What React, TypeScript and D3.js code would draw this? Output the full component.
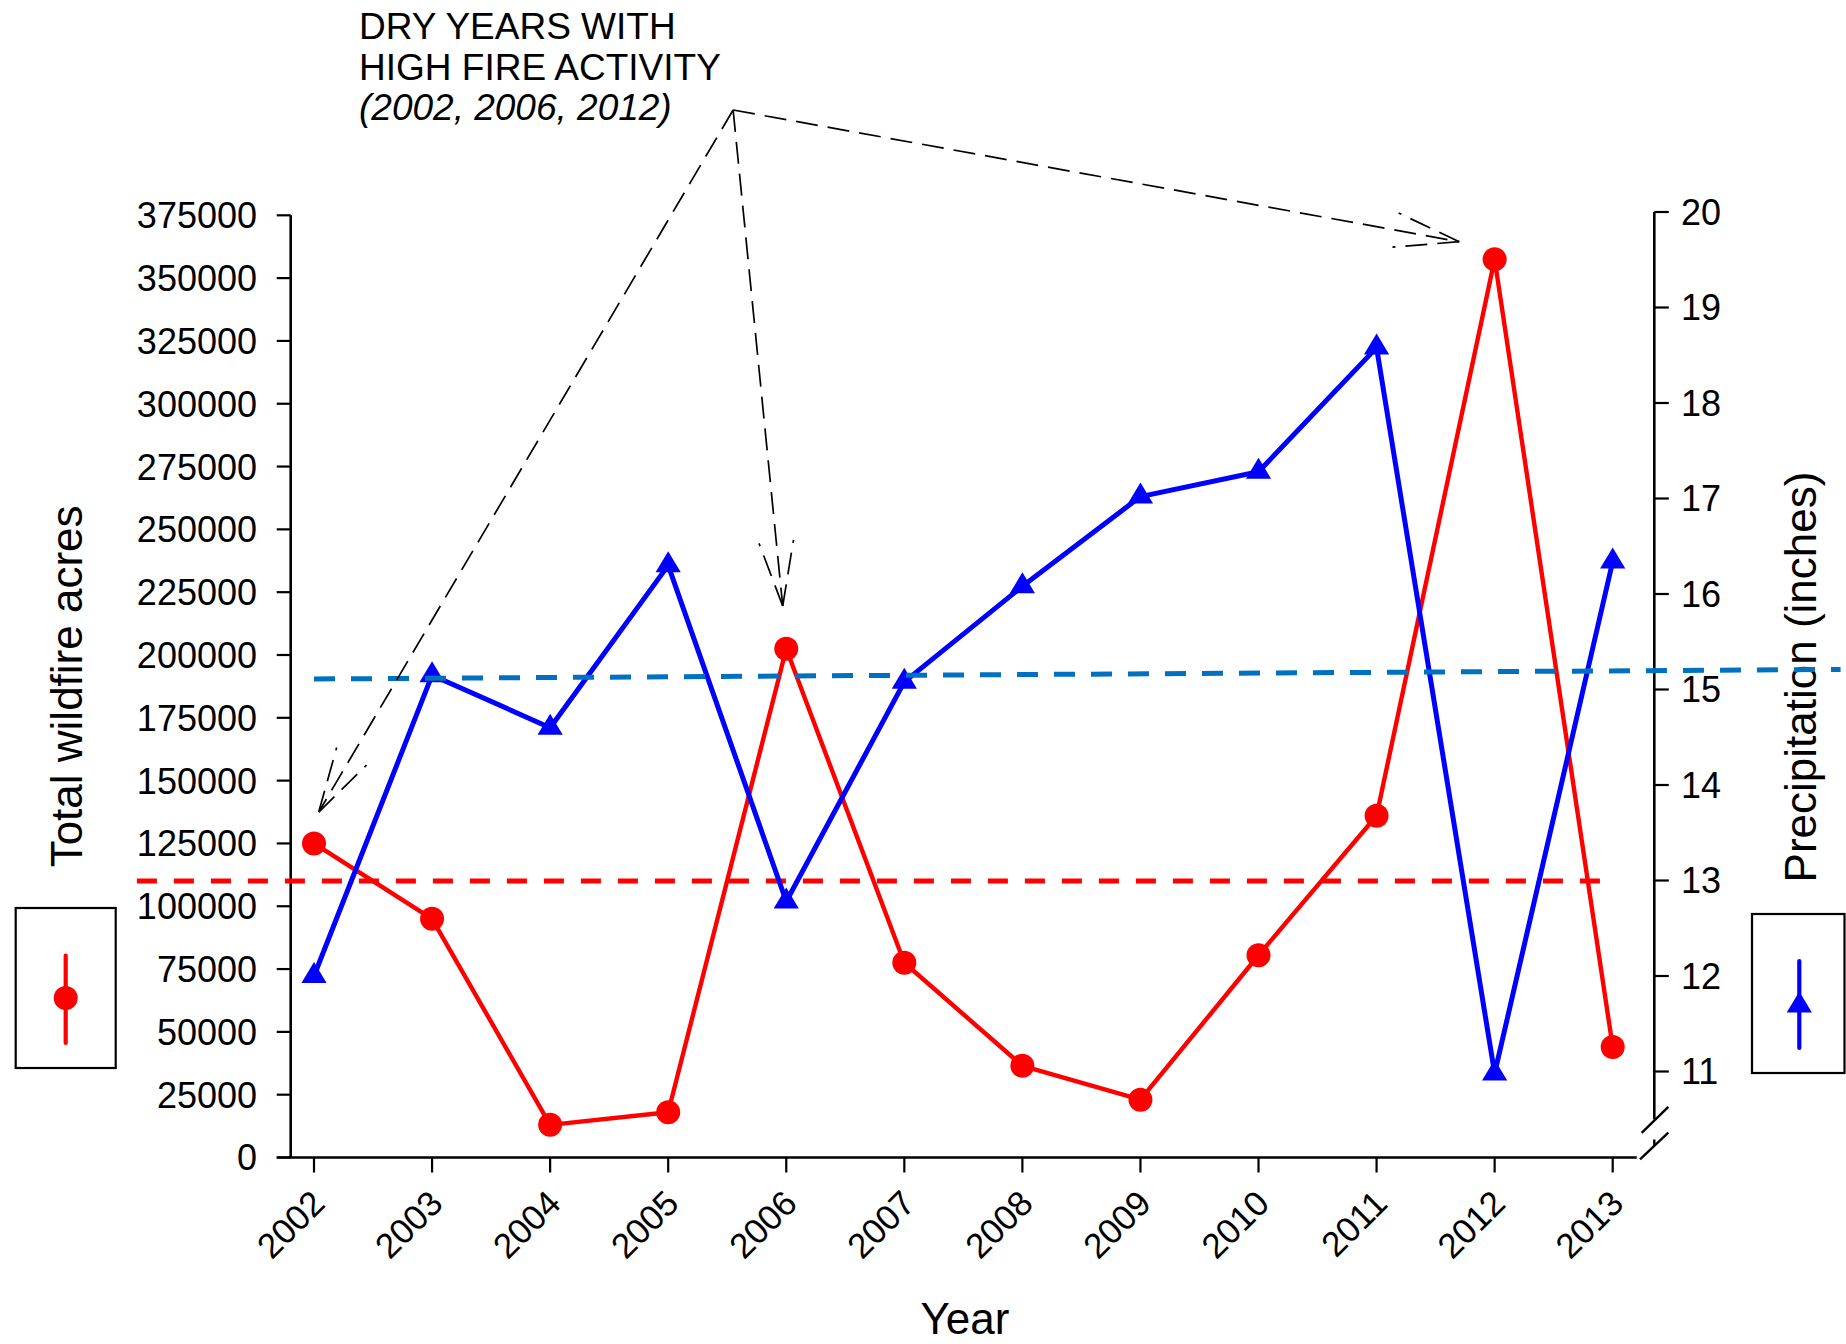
import React from "react";
import * as d3 from "d3";

// Annual series
const years = [2002, 2003, 2004, 2005, 2006, 2007, 2008, 2009, 2010, 2011, 2012, 2013];
const wildfireAcres = [125000, 95000, 13000, 18000, 202500, 77500, 36500, 23000, 80500, 136000, 357500, 44000];
const precipitation = [12.0, 15.15, 14.6, 16.3, 12.78, 15.08, 16.08, 17.02, 17.28, 18.58, 10.98, 16.34];

// Axis ticks
const acreTicks = d3.range(0, 375001, 25000);
const precipTicks = [11, 12, 13, 14, 15, 16, 17, 18, 19, 20];

// Reference lines
const acresMean = 110000;
const acresMeanSpan = [2000.5, 2013];
const precipTrend: [number, number][] = [
  [2002, 15.11],
  [2014.93, 15.21],
];
const precipAxisBreak = 10.5;

// Callout
const calloutLines = ["DRY YEARS WITH", "HIGH FIRE ACTIVITY", "(2002, 2006, 2012)"];
const calloutOrigin: [number, number] = [2005.55, 416900];
const calloutTargets: [number, number][] = [
  [2002.04, 137500],
  [2005.97, 219500],
  [2011.7, 364500],
];

const FONT = "'Liberation Sans', Arial, Helvetica, sans-serif";
const RED = "#ff0000";
const BLUE = "#0000ff";
const TREND = "#0070c0";

export default function App() {
  const W = 1846;
  const H = 1344;

  const x = d3.scaleLinear().domain([2002, 2013]).range([314, 1612.7]);
  const yL = d3.scaleLinear().domain([0, 375000]).range([1157.5, 215.3]);
  const yR = d3.scaleLinear().domain([11, 20]).range([1071.5, 212]);

  const leftX = 290.7;
  const rightX = 1654.3;
  const baseY = yL(0);

  const fireLine = d3
    .line<number>()
    .x((_, i) => x(years[i]))
    .y((d) => yL(d));
  const precipLine = d3
    .line<number>()
    .x((_, i) => x(years[i]))
    .y((d) => yR(d));
  const trendLine = d3
    .line<[number, number]>()
    .x((d) => x(d[0]))
    .y((d) => yR(d[1]));

  const tri = (cx: number, cy: number) =>
    `M${cx},${cy - 14} L${cx + 12.6},${cy + 7} L${cx - 12.6},${cy + 7} Z`;

  // Callout arrows
  const ox = x(calloutOrigin[0]);
  const oy = yL(calloutOrigin[1]);
  const arrows = calloutTargets.map(([ty, tv]) => {
    const tx = x(ty);
    const tyy = yL(tv);
    const ang = Math.atan2(oy - tyy, ox - tx);
    const len = 67;
    const wa = 15 * (Math.PI / 180);
    const w1: [number, number] = [tx + len * Math.cos(ang + wa), tyy + len * Math.sin(ang + wa)];
    const w2: [number, number] = [tx + len * Math.cos(ang - wa), tyy + len * Math.sin(ang - wa)];
    return { tx, ty: tyy, w1, w2 };
  });

  const precipAxisEnd = yR(precipAxisBreak);

  return (
    <svg
      width={W}
      height={H}
      viewBox={`0 0 ${W} ${H}`}
      style={{ position: "absolute", left: 0, top: 0, background: "#fff" }}
    >
      <rect x={0} y={0} width={W} height={H} fill="#fff" />

      {/* Left axis */}
      <line x1={leftX} x2={leftX} y1={yL(375000)} y2={baseY} stroke="#000" strokeWidth={2.6} />
      {acreTicks.map((t) => (
        <g key={`l${t}`}>
          <line x1={leftX - 14} x2={leftX} y1={yL(t)} y2={yL(t)} stroke="#000" strokeWidth={2.2} />
          <text
            x={257}
            y={yL(t)}
            dy="0.36em"
            textAnchor="end"
            fontFamily={FONT}
            fontSize={36}
            fill="#000"
          >
            {t}
          </text>
        </g>
      ))}
      <text
        transform={`translate(82, ${(yL(0) + yL(375000)) / 2}) rotate(-90)`}
        textAnchor="middle"
        fontFamily={FONT}
        fontSize={44}
        fill="#000"
      >
        Total wildfire acres
      </text>

      {/* Bottom axis */}
      <line x1={276.7} x2={1636.7} y1={baseY} y2={baseY} stroke="#000" strokeWidth={2.6} />
      {years.map((yr) => (
        <g key={`x${yr}`}>
          <line x1={x(yr)} x2={x(yr)} y1={baseY} y2={baseY + 15} stroke="#000" strokeWidth={2.2} />
          <text
            transform={`translate(${x(yr) + 12.7}, ${baseY + 48}) rotate(-45)`}
            textAnchor="end"
            fontFamily={FONT}
            fontSize={35}
            fill="#000"
          >
            {yr}
          </text>
        </g>
      ))}
      <text x={965} y={1334} textAnchor="middle" fontFamily={FONT} fontSize={44} fill="#000">
        Year
      </text>

      {/* Right axis with break */}
      <line x1={rightX} x2={rightX} y1={yR(20)} y2={precipAxisEnd} stroke="#000" strokeWidth={2.6} />
      {precipTicks.map((t) => (
        <g key={`r${t}`}>
          <line x1={rightX} x2={rightX + 14.5} y1={yR(t)} y2={yR(t)} stroke="#000" strokeWidth={2.2} />
          <text
            x={1681}
            y={yR(t)}
            dy="0.36em"
            textAnchor="start"
            fontFamily={FONT}
            fontSize={36}
            fill="#000"
          >
            {t}
          </text>
        </g>
      ))}
      <line x1={1641.7} y1={precipAxisEnd + 13.7} x2={1668.3} y2={precipAxisEnd - 12.3} stroke="#000" strokeWidth={2.4} />
      <line x1={1640} y1={baseY + 1.8} x2={1668.3} y2={baseY - 24.8} stroke="#000" strokeWidth={2.4} />
      <line x1={rightX} x2={rightX} y1={baseY - 12} y2={baseY - 18} stroke="#000" strokeWidth={2.4} />
      <text
        transform={`translate(1816, 677) rotate(-90)`}
        textAnchor="middle"
        fontFamily={FONT}
        fontSize={44}
        fill="#000"
      >
        Precipitation (inches)
      </text>

      {/* Mean wildfire acres */}
      <line
        x1={x(acresMeanSpan[0])}
        x2={x(acresMeanSpan[1])}
        y1={yL(acresMean)}
        y2={yL(acresMean)}
        stroke={RED}
        strokeWidth={5}
        strokeDasharray="20 17"
      />

      {/* Wildfire acres series */}
      <path d={fireLine(wildfireAcres) ?? ""} fill="none" stroke={RED} strokeWidth={4.4} strokeLinejoin="round" />
      {wildfireAcres.map((v, i) => (
        <circle key={`c${i}`} cx={x(years[i])} cy={yL(v)} r={12} fill={RED} />
      ))}

      {/* Precipitation series */}
      <path d={precipLine(precipitation) ?? ""} fill="none" stroke={BLUE} strokeWidth={5} strokeLinejoin="round" />
      {precipitation.map((v, i) => (
        <path key={`t${i}`} d={tri(x(years[i]), yR(v))} fill={BLUE} />
      ))}

      {/* Precipitation trend */}
      <path
        d={trendLine(precipTrend) ?? ""}
        fill="none"
        stroke={TREND}
        strokeWidth={5}
        strokeDasharray="21 16"
      />

      {/* Callout */}
      <g fontFamily={FONT} fontSize={37} fill="#000">
        <text x={359} y={38.9}>{calloutLines[0]}</text>
        <text x={359} y={79.5}>{calloutLines[1]}</text>
        <text x={359} y={119.5} fontStyle="italic">{calloutLines[2]}</text>
      </g>
      <g stroke="#000" strokeWidth={1.7} fill="none" strokeDasharray="22 10">
        {arrows.map((a, i) => (
          <g key={`a${i}`}>
            <line x1={ox} y1={oy} x2={a.tx} y2={a.ty} />
            <line x1={a.tx} y1={a.ty} x2={a.w1[0]} y2={a.w1[1]} />
            <line x1={a.tx} y1={a.ty} x2={a.w2[0]} y2={a.w2[1]} />
          </g>
        ))}
      </g>

      {/* Legend boxes */}
      <rect x={15.7} y={908} width={100} height={160} fill="none" stroke="#000" strokeWidth={2.2} />
      <line x1={65.7} x2={65.7} y1={955.7} y2={1043} stroke={RED} strokeWidth={4.2} strokeLinecap="round" />
      <circle cx={65.7} cy={998} r={12} fill={RED} />

      <rect x={1752} y={914} width={92.5} height={159} fill="none" stroke="#000" strokeWidth={2.2} />
      <line x1={1799.3} x2={1799.3} y1={961} y2={1048} stroke={BLUE} strokeWidth={4.2} strokeLinecap="round" />
      <path d={tri(1799.3, 1005.5)} fill={BLUE} />
    </svg>
  );
}
